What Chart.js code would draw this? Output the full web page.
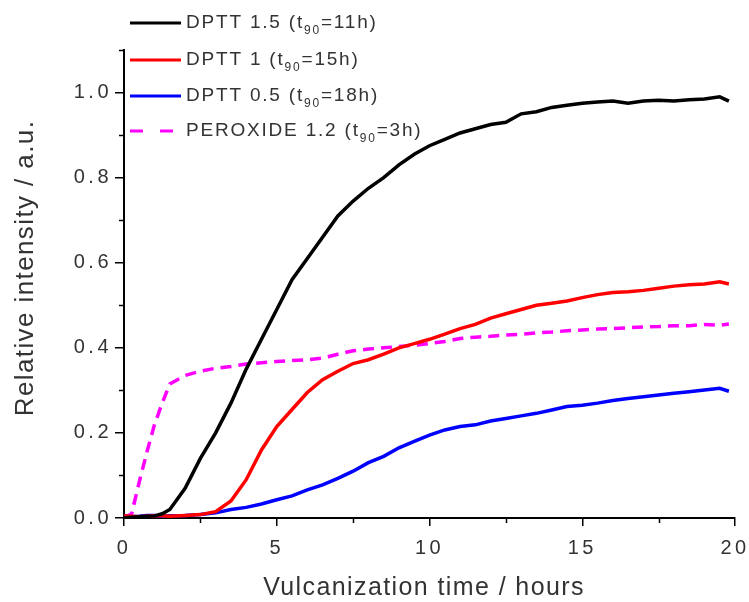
<!DOCTYPE html>
<html>
<head>
<meta charset="utf-8">
<script src="https://cdn.jsdelivr.net/npm/chart.js@4.4.1/dist/chart.umd.min.js"></script>
<style>
  body { margin: 0; background: #fff; }
  #wrap { width: 749px; height: 602px; }
</style>
</head>
<body>
<div id="wrap"><canvas id="chart" width="749" height="602"></canvas></div>
<script>
// vulcanization time, hours
const hours = [0, 0.25, 0.5, 0.75, 1, 1.25, 1.5, 2, 2.5, 3, 3.5, 4, 4.5, 5, 5.5, 6, 6.5, 7, 7.5, 8, 8.5,
  9, 9.5, 10, 10.5, 11, 11.5, 12, 12.5, 13, 13.5, 14, 14.5, 15, 15.5, 16, 16.5, 17, 17.5, 18, 18.5, 19, 19.5, 19.8];

const dptt15 = [0, 0.002, 0.003, 0.004, 0.005, 0.01, 0.02, 0.07, 0.14, 0.20, 0.27, 0.35, 0.42, 0.49, 0.56, 0.61, 0.66, 0.71, 0.745, 0.775, 0.80,
  0.83, 0.855, 0.875, 0.89, 0.905, 0.915, 0.925, 0.93, 0.95, 0.955, 0.965, 0.97, 0.975, 0.978, 0.98, 0.975, 0.98, 0.982, 0.98, 0.983, 0.985, 0.99, 0.98];

const dptt1 = [0.005, 0.004, 0.003, 0.004, 0.005, 0.005, 0.004, 0.006, 0.008, 0.015, 0.04, 0.09, 0.16, 0.215, 0.255, 0.295, 0.325, 0.345, 0.363, 0.372, 0.385,
  0.40, 0.41, 0.42, 0.432, 0.445, 0.455, 0.47, 0.48, 0.49, 0.50, 0.505, 0.51, 0.518, 0.525, 0.53, 0.532, 0.535, 0.54, 0.545, 0.548, 0.55, 0.555, 0.55];

const dptt05 = [0.005, 0.003, 0.004, 0.006, 0.006, 0.004, 0.005, 0.006, 0.008, 0.012, 0.02, 0.025, 0.033, 0.043, 0.052, 0.066, 0.078, 0.093, 0.11, 0.13, 0.145,
  0.165, 0.18, 0.195, 0.207, 0.215, 0.219, 0.228, 0.234, 0.24, 0.246, 0.254, 0.262, 0.265, 0.27, 0.276, 0.281, 0.285, 0.289, 0.293, 0.297, 0.301, 0.305, 0.298];

const peroxide = [0, 0.01, 0.085, 0.155, 0.22, 0.27, 0.315, 0.335, 0.345, 0.352, 0.356, 0.362, 0.365, 0.368, 0.37, 0.372, 0.376, 0.385, 0.393, 0.397, 0.40,
  0.403, 0.406, 0.41, 0.415, 0.422, 0.425, 0.427, 0.43, 0.432, 0.435, 0.437, 0.44, 0.442, 0.444, 0.445, 0.447, 0.449, 0.45, 0.452, 0.452, 0.455, 0.453, 0.456];

const seriesNames = ["DPTT 1.5", "DPTT 1", "DPTT 0.5", "PEROXIDE 1.2"];
const t90Labels = ["11h", "15h", "18h", "3h"];
const seriesColors = ["#000000", "#ff0000", "#0000ff", "#ff00ff"];

const xTitle = "Vulcanization time / hours";
const yTitle = "Relative intensity / a.u.";

const textColor = "#333";
const fontFamily = "'Liberation Sans', Arial, sans-serif";

const toPoints = (vals) => vals.map((v, i) => ({ x: hours[i], y: v }));

const makeSet = (i, vals) => ({
  label: seriesNames[i],
  data: toPoints(vals),
  borderColor: seriesColors[i],
  backgroundColor: seriesColors[i],
  borderWidth: 3.5,
  pointRadius: 0,
  tension: 0,
  borderDash: i === 3 ? [11, 7] : [],
});

// minor ticks, axis titles and the legend with t90 subscripts
const extras = {
  id: "extras",
  beforeDraw(chart) {
    // the tick labels in the original are spaced out
    chart.ctx.letterSpacing = "3.5px";
  },
  afterDraw(chart) {
    const ctx = chart.ctx;
    const xs = chart.scales.x;
    const ys = chart.scales.y;
    const area = chart.chartArea;
    ctx.save();
    ctx.strokeStyle = "#000";
    ctx.lineWidth = 1.5;
    for (const v of [0.1, 0.3, 0.5, 0.7, 0.9, 1.1]) {
      const py = Math.round(ys.getPixelForValue(v)) + 0.5;
      ctx.beginPath();
      ctx.moveTo(area.left - 5, py);
      ctx.lineTo(area.left, py);
      ctx.stroke();
    }
    for (const v of [2.5, 7.5, 12.5, 17.5]) {
      const px = Math.round(xs.getPixelForValue(v)) + 0.5;
      ctx.beginPath();
      ctx.moveTo(px, area.bottom);
      ctx.lineTo(px, area.bottom + 5);
      ctx.stroke();
    }

    ctx.fillStyle = textColor;
    ctx.textAlign = "center";
    ctx.textBaseline = "middle";
    ctx.font = "25px " + fontFamily;
    ctx.letterSpacing = "1.4px";
    ctx.fillText(xTitle, 424, 588);
    ctx.save();
    ctx.translate(26, 268);
    ctx.rotate(-Math.PI / 2);
    ctx.font = "26px " + fontFamily;
    ctx.letterSpacing = "1.4px";
    ctx.fillText(yTitle, 0, 0);
    ctx.restore();

    // legend
    ctx.textAlign = "left";
    ctx.letterSpacing = "1.8px";
    const rowY = [23, 60, 96, 131];
    seriesNames.forEach((name, i) => {
      const y = rowY[i];
      ctx.strokeStyle = seriesColors[i];
      ctx.lineWidth = 3;
      ctx.setLineDash(i === 3 ? [13, 17] : []);
      ctx.beginPath();
      ctx.moveTo(130, y);
      ctx.lineTo(181, y);
      ctx.stroke();
      ctx.setLineDash([]);
      let x = 186;
      ctx.font = "19px " + fontFamily;
      const head = name + " (t";
      ctx.fillText(head, x, y);
      x += ctx.measureText(head).width;
      ctx.font = "12px " + fontFamily;
      ctx.fillText("90", x, y + 8);
      x += ctx.measureText("90").width;
      ctx.font = "19px " + fontFamily;
      ctx.fillText("=" + t90Labels[i] + ")", x, y);
    });
    ctx.restore();
    ctx.letterSpacing = "0px";
  }
};

new Chart(document.getElementById("chart").getContext("2d"), {
  type: "line",
  data: {
    datasets: [makeSet(0, dptt15), makeSet(1, dptt1), makeSet(2, dptt05), makeSet(3, peroxide)]
  },
  options: {
    responsive: false,
    animation: false,
    layout: { autoPadding: false, padding: { left: 1, top: 50, right: 14, bottom: 0 } },
    plugins: { legend: { display: false }, tooltip: { enabled: false } },
    scales: {
      x: {
        type: "linear",
        min: 0,
        max: 20,
        afterFit: (s) => {
          s.height = 84;
          s.paddingLeft = 0;
          s.paddingRight = 0;
        },
        border: { display: true, color: "#000", width: 2 },
        grid: { drawOnChartArea: false, drawTicks: true, tickLength: 8, color: "#000", lineWidth: 1.5 },
        ticks: { stepSize: 5, color: textColor, padding: 10, font: { size: 20, family: fontFamily } }
      },
      y: {
        type: "linear",
        min: 0,
        max: 1.1,
        bounds: "data",
        afterFit: (s) => {
          s.width = 123;
          s.paddingTop = 0;
          s.paddingBottom = 0;
        },
        border: { display: true, color: "#000", width: 2 },
        grid: {
          drawOnChartArea: false,
          drawTicks: true,
          tickLength: 9,
          color: "#000",
          tickColor: (c) => (c.tick && c.tick.value > 1.05 ? "rgba(0,0,0,0)" : "#000"),
          lineWidth: 1.5
        },
        ticks: {
          stepSize: 0.2,
          color: textColor,
          padding: 3,
          font: { size: 20, family: fontFamily },
          callback: (v) => (v > 1.05 ? "" : v.toFixed(1))
        }
      }
    }
  },
  plugins: [extras]
});
</script>
</body>
</html>
